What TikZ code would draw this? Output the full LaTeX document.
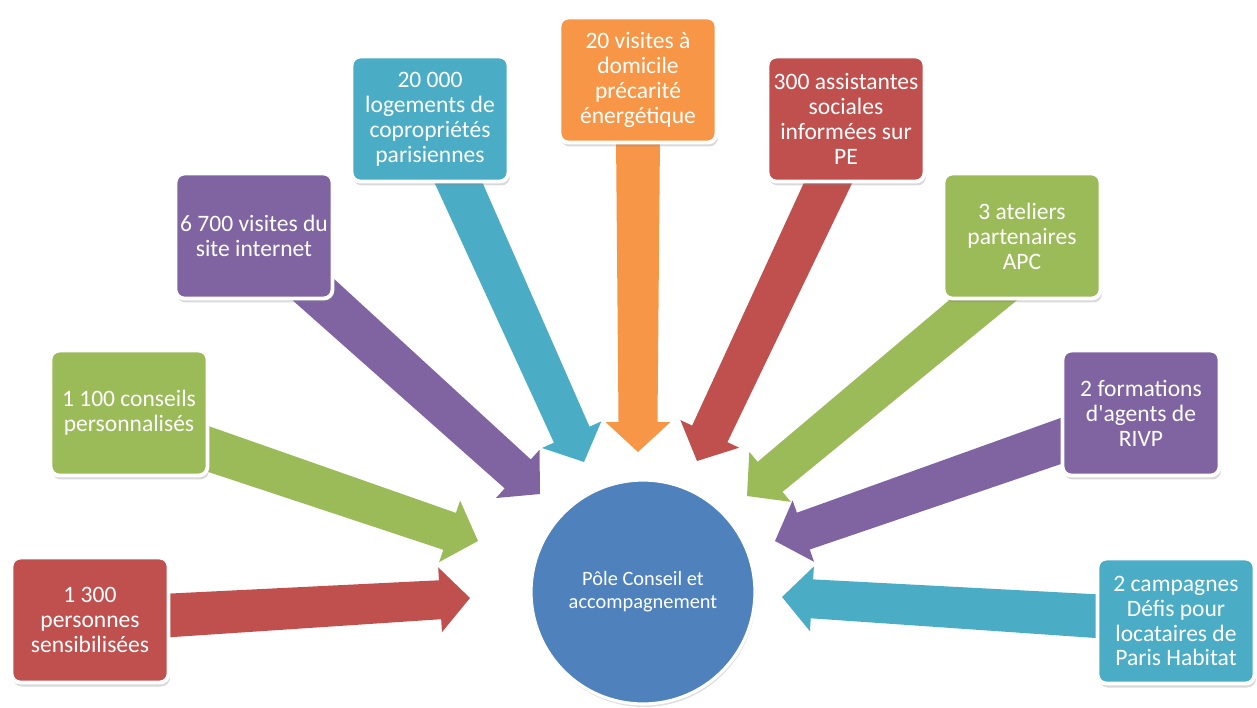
\documentclass[tikz,border=0pt]{standalone}
\usepackage{fontspec}
\setmainfont{Carlito}
\usetikzlibrary{shadows,backgrounds,calc}
\definecolor{ofred}{HTML}{C0504D}
\definecolor{ofgreen}{HTML}{9BBB59}
\definecolor{ofpurple}{HTML}{8064A2}
\definecolor{ofaqua}{HTML}{4BACC6}
\definecolor{oforange}{HTML}{F79646}
\definecolor{ofblue}{HTML}{4F81BD}
\tikzset{box/.style={rectangle, rounded corners=5pt, draw=white, line width=2.2pt,
      minimum width=3.14cm, minimum height=2.5cm, inner sep=1pt, align=center,
      text=white, font=\fontsize{13.4}{14.2}\selectfont,
      drop shadow={opacity=0.3, shadow xshift=0.03cm, shadow yshift=-0.08cm}}}
\tikzset{pole/.style={circle, fill=ofblue, draw=white, line width=1.8pt,
      minimum size=4.48cm, align=center, text=white,
      font=\fontsize{11.6}{13.1}\selectfont,
      drop shadow={opacity=0.25, shadow xshift=0.02cm, shadow yshift=-0.06cm}}}
\newcommand{\fatarrow}[3]{%
  \coordinate (fa-a) at (#2);
  \coordinate (fa-b) at (#3);
  \coordinate (fa-h) at ($(fa-b)!0.6cm!(fa-a)$);
  \fill[#1] ($(fa-a)!0.45cm!90:(fa-b)$) -- ($(fa-h)!0.39cm!90:(fa-b)$)
    -- ($(fa-h)!0.65cm!90:(fa-b)$) -- (fa-b) -- ($(fa-h)!0.65cm!-90:(fa-b)$)
    -- ($(fa-h)!0.39cm!-90:(fa-b)$) -- ($(fa-a)!0.45cm!-90:(fa-b)$) -- cycle;}

\begin{document}
\begin{tikzpicture}[x=0.02cm, y=-0.02cm]
    \useasboundingbox (0,0) rectangle (1257,707);
    \node[box, fill=ofred] (personnes) at (90,620) {1 300\\personnes\\sensibilisées};
    \node[box, fill=ofgreen] (conseils) at (129,413) {1 100 conseils\\personnalisés};
    \node[box, fill=ofpurple] (internet) at (254,236) {6 700 visites du\\site internet};
    \node[box, fill=ofaqua] (logements) at (430,119) {20 000\\logements de\\copropriétés\\parisiennes};
    \node[box, fill=oforange] (domicile) at (638,80) {20 visites à\\domicile\\précarité\\énergétique};
    \node[box, fill=ofred] (assistantes) at (846,119) {300 assistantes\\sociales\\informées sur\\PE};
    \node[box, fill=ofgreen] (ateliers) at (1022,236) {3 ateliers\\partenaires\\APC};
    \node[box, fill=ofpurple] (formations) at (1141,413) {2 formations\\d\textquotesingle agents de\\RIVP};
    \node[box, fill=ofaqua] (campagnes) at (1176,621) {2 campagnes\\Défis pour\\locataires de\\Paris Habitat};
    \node[pole] (pole) at (643,592) {Pôle Conseil et\\accompagnement};
    \coordinate (tip-personnes) at (470,598);
    \coordinate (tip-conseils) at (478,541);
    \coordinate (tip-internet) at (540,494);
    \coordinate (tip-logements) at (584,462);
    \coordinate (tip-domicile) at (638,452);
    \coordinate (tip-assistantes) at (697,461);
    \coordinate (tip-ateliers) at (747,496);
    \coordinate (tip-formations) at (775,541);
    \coordinate (tip-campagnes) at (782,597);
    \begin{scope}[on background layer]
      \fatarrow{ofred}{personnes.center}{tip-personnes}
      \fatarrow{ofgreen}{[yshift=-0.18cm]conseils.center}{tip-conseils}
      \fatarrow{ofpurple}{internet.center}{tip-internet}
      \fatarrow{ofaqua}{logements.center}{tip-logements}
      \fatarrow{oforange}{domicile.center}{tip-domicile}
      \fatarrow{ofred}{[xshift=0.24cm]assistantes.center}{tip-assistantes}
      \fatarrow{ofgreen}{[xshift=0.76cm]ateliers.center}{tip-ateliers}
      \fatarrow{ofpurple}{formations.center}{tip-formations}
      \fatarrow{ofaqua}{campagnes.center}{tip-campagnes}
    \end{scope}
  \end{tikzpicture}
\end{document}
